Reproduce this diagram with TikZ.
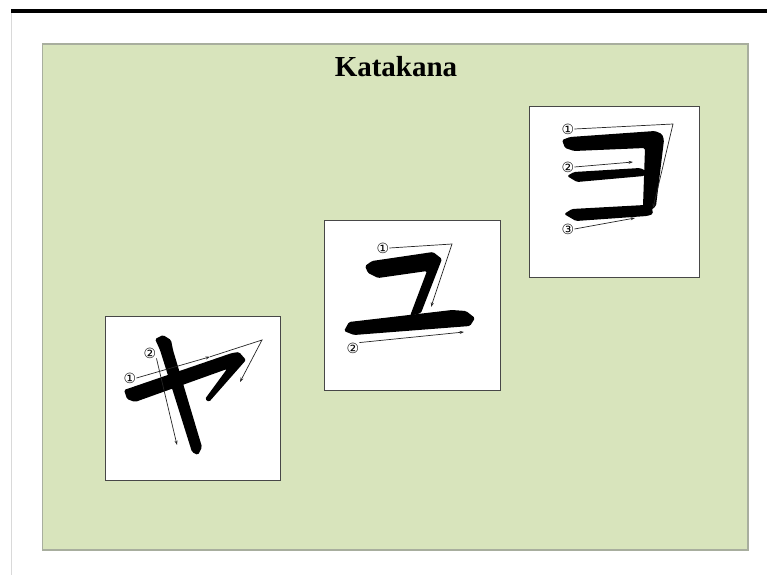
\documentclass[tikz,border=0pt]{standalone}
\usepackage{fontspec}
\setmainfont{Liberation Serif}
\newfontfamily\circfont{DejaVu Sans}
\usetikzlibrary{arrows.meta}

\definecolor{panelgreen}{HTML}{D8E4BC}
\definecolor{panelrim}{HTML}{A8AE9E}

\tikzset{
  kbox/.style={draw=black!72, line width=1.3pt, fill=white, inner sep=0pt, anchor=north west},
  brush/.style={fill=black, rounded corners=1.5pt},
  num/.style={font=\circfont\fontsize{14}{14}\selectfont, inner sep=0pt},
  guide/.style={line width=0.7pt, black!85},
  guidetip/.style={guide, -{Stealth[length=4.5pt,width=3pt]}},
}

\begin{document}
\begin{tikzpicture}[x=1pt, y=-1pt]
\useasboundingbox (0,0) rectangle (767,575);

% page frame
\fill[black] (11,9) rectangle (767,13.5);
\draw[black!15, line width=0.8pt] (11.5,13.5) -- (11.5,575);

% green panel
\draw[fill=panelgreen, draw=panelrim, line width=1.2pt] (42.5,44) rectangle (748,550);
\node[font=\bfseries\fontsize{29}{29}\selectfont, anchor=base] (title) at (396,77) {Katakana};

% boxes: name / left / top / width / height
\foreach \nm/\bx/\by/\bw/\bh in {ya/105/316/175/164, yu/324/220/176/170, yo/529/106/170/171}
{
  \node[kbox, minimum width=\bw pt, minimum height=\bh pt] (box\nm) at (\bx,\by) {};
}

% --- ya ---
\fill[brush] (124,390) -- (232,353) -- (239,352) -- (246,360) -- (209,402) -- (205,399)
  -- (227,369) -- (135,402) -- (127,399) -- cycle;
\fill[brush] (155,339) -- (163,335) -- (171,340) -- (173,350) -- (202,447) -- (198,455)
  -- (192,452) -- (160,350) -- cycle;
\node[num] (ya1) at (130,378) {①};
\node[num] (ya2) at (150,353) {②};
\coordinate (ya1mid) at (210,356.8);
\coordinate (ya1bend) at (262,340);
\coordinate (ya1end) at (240,382);
\coordinate (ya2end) at (177,445);
\draw[guidetip] (ya1.east) -- (ya1mid);
\draw[guidetip] (ya1mid) -- (ya1bend) -- (ya1end);
\draw[guidetip] (ya2.south east) -- (ya2end);

% --- yu ---
\fill[brush] (365,266) -- (372,261) -- (433,252) -- (442,259) -- (421,313) -- (410,316)
  -- (427,271) -- (378,278) -- (368,273) -- cycle;
\fill[brush] (344,331) -- (349,322) -- (452,310) -- (466,311) -- (475,318) -- (470,326)
  -- (354,335) -- cycle;
\node[num] (yu1) at (383,248) {①};
\node[num] (yu2) at (353,348) {②};
\coordinate (yu1bend) at (452,244);
\coordinate (yu1end) at (431,307);
\coordinate (yu2end) at (464,332);
\draw[guidetip] (yu1.east) -- (yu1bend) -- (yu1end);
\draw[guidetip] (yu2.north east) -- (yu2end);

% --- yo ---
\fill[brush] (562,140) -- (570,137) -- (655,131) -- (662,134) -- (664,140) -- (656,206)
  -- (650,211) -- (643,206) -- (645,148) -- (574,151) -- (565,148) -- cycle;
\fill[brush] (567,176) -- (574,172) -- (640,168) -- (648,172) -- (644,176) -- (577,182) -- cycle;
\fill[brush] (564,214) -- (572,209) -- (645,205) -- (652,208) -- (653,214) -- (647,216)
  -- (576,221) -- cycle;
\node[num] (yo1) at (568,129) {①};
\node[num] (yo2) at (568,167) {②};
\node[num] (yo3) at (568,229) {③};
\coordinate (yo1bend) at (673,124);
\coordinate (yo1end) at (653,208);
\coordinate (yo2end) at (633,162);
\coordinate (yo3end) at (635,218);
\draw[guidetip] (yo1.east) -- (yo1bend) -- (yo1end);
\draw[guidetip] (yo2.east) -- (yo2end);
\draw[guidetip] (yo3.east) -- (yo3end);

\end{tikzpicture}
\end{document}
